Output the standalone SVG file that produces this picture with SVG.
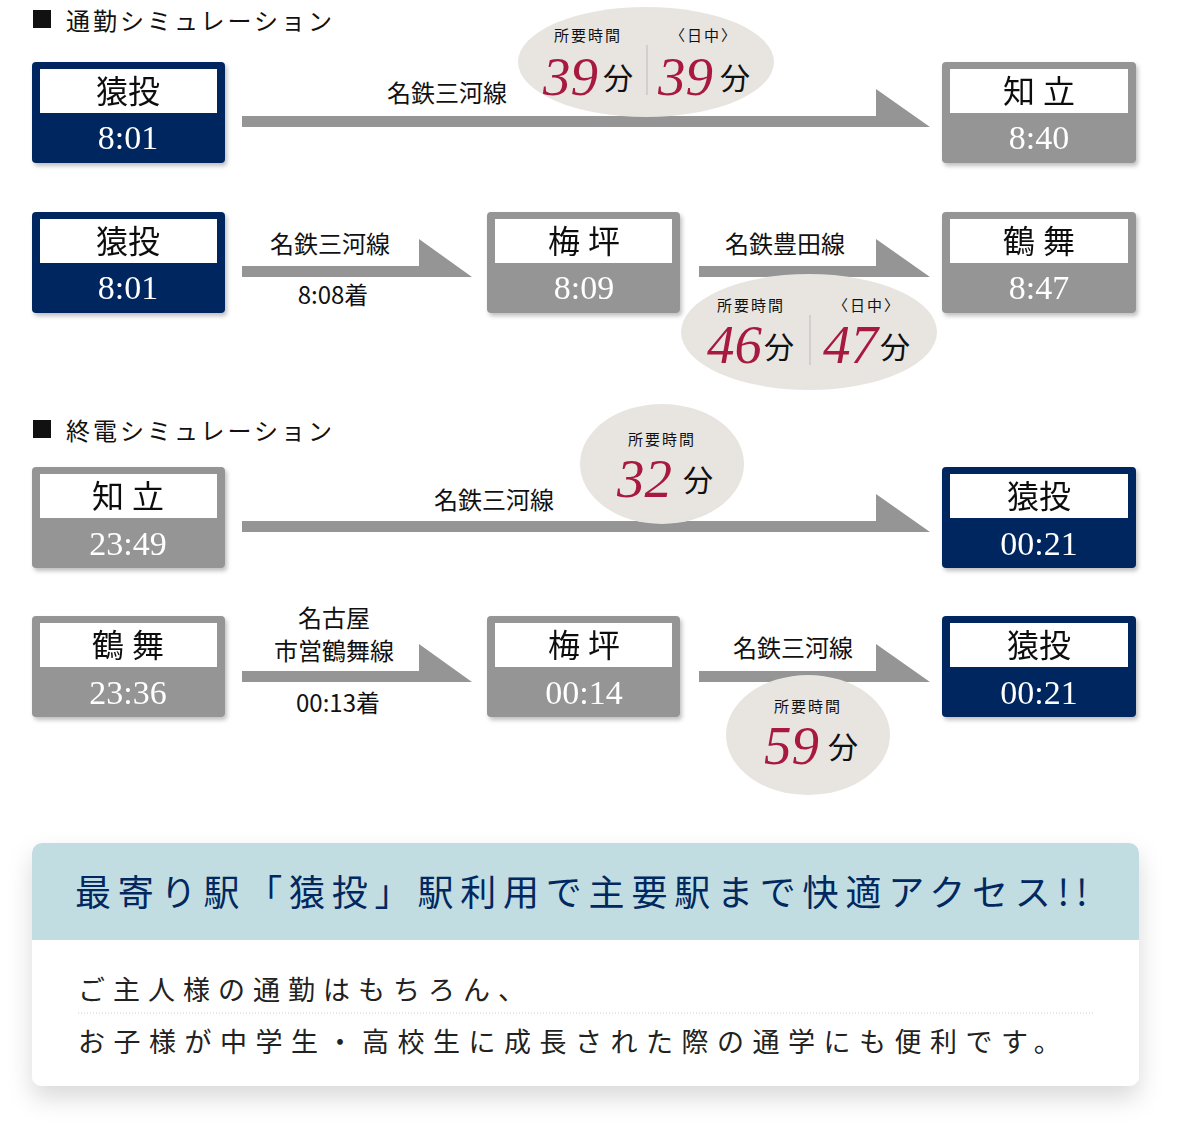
<svg xmlns="http://www.w3.org/2000/svg" width="1200" height="1148" viewBox="0 0 1200 1148">
<defs>
<filter id="sh" x="-10%" y="-10%" width="130%" height="140%"><feDropShadow dx="2" dy="3" stdDeviation="2" flood-color="#000" flood-opacity="0.25"/></filter>
<filter id="sh2" x="-10%" y="-20%" width="120%" height="150%"><feDropShadow dx="0" dy="12" stdDeviation="12" flood-color="#000" flood-opacity="0.15"/></filter>
</defs>
<style>
.navy{fill:#022860}.grey{fill:#959595}.in{fill:#fff}
.nm{font-family:"Liberation Serif","Noto Sans CJK JP",serif;font-size:32px;fill:#111;text-anchor:middle}
.tm{font-family:"Liberation Serif",serif;font-size:34px;fill:#fff;text-anchor:middle}
.ln{font-family:"Noto Sans CJK JP",sans-serif;font-size:24px;fill:#111;text-anchor:middle}
.hd{font-family:"Noto Sans CJK JP",sans-serif;font-size:24px;fill:#111;letter-spacing:3px}
.bub{fill:#e8e5e1}
.sm{font-family:"Noto Sans CJK JP",sans-serif;font-size:15px;fill:#111;text-anchor:middle;letter-spacing:2px}
.big{font-family:"Liberation Serif",serif;font-style:italic;font-size:55px;fill:#a8193f}
.fn{font-family:"Noto Sans CJK JP",sans-serif;font-size:30px;fill:#111}
.arr{fill:#959595}
</style>
<rect x="33" y="10" width="18" height="18" fill="#111"/>
<text class="hd" x="66" y="30">通勤シミュレーション</text>
<rect x="33" y="420" width="18" height="18" fill="#111"/>
<text class="hd" x="66" y="440">終電シミュレーション</text>

<g id="connectors">
<polygon class="arr" points="242,116 876,116 876,89 930,127 242,127"/>
<polygon class="arr" points="242,266 419,266 419,239 472,277 242,277"/>
<polygon class="arr" points="699,266 876,266 876,239 930,277 699,277"/>
<polygon class="arr" points="242,521 876,521 876,494 930,532 242,532"/>
<polygon class="arr" points="242,671 419,671 419,644 472,682 242,682"/>
<polygon class="arr" points="699,671 876,671 876,644 930,682 699,682"/>
<text class="ln" x="447" y="102">名鉄三河線</text>
<text class="ln" x="330" y="253">名鉄三河線</text>
<text class="ln" x="333" y="304">8:08着</text>
<text class="ln" x="785" y="253">名鉄豊田線</text>
<text class="ln" x="494" y="509">名鉄三河線</text>
<text class="ln" x="334" y="627">名古屋</text>
<text class="ln" x="334" y="660">市営鶴舞線</text>
<text class="ln" x="338" y="712">00:13着</text>
<text class="ln" x="793" y="657">名鉄三河線</text>
</g>

<g id="badge1">
<ellipse class="bub" cx="646" cy="62" rx="128" ry="55"/>
<line x1="647" y1="45" x2="647" y2="95" stroke="#bbb" stroke-width="1"/>
<text class="sm" x="588" y="41">所要時間</text>
<text class="sm" x="704" y="41">〈日中〉</text>
<text class="big" x="543" y="95">39</text><text class="fn" x="603" y="89">分</text>
<text class="big" x="658" y="95">39</text><text class="fn" x="720" y="89">分</text>
</g>
<g id="badge2">
<ellipse class="bub" cx="809" cy="332" rx="128" ry="58"/>
<line x1="810" y1="315" x2="810" y2="365" stroke="#bbb" stroke-width="1"/>
<text class="sm" x="751" y="311">所要時間</text>
<text class="sm" x="867" y="311">〈日中〉</text>
<text class="big" x="707" y="363">46</text><text class="fn" x="764" y="358">分</text>
<text class="big" x="823" y="363">47</text><text class="fn" x="880" y="358">分</text>
</g>
<g id="badge3">
<ellipse class="bub" cx="662" cy="464" rx="82" ry="60"/>
<text class="sm" x="662" y="445">所要時間</text>
<text class="big" x="617" y="497">32</text><text class="fn" x="683" y="491">分</text>
</g>
<g id="badge4">
<ellipse class="bub" cx="808" cy="735" rx="82" ry="60"/>
<text class="sm" x="808" y="712">所要時間</text>
<text class="big" x="764" y="764">59</text><text class="fn" x="828" y="758">分</text>
</g>

<g id="n1" filter="url(#sh)"><rect class="navy" x="32" y="62" width="193" height="101" rx="4"/><rect class="in" x="40" y="69" width="177" height="44"/><text class="nm" x="128" y="103">猿投</text><text class="tm" x="128" y="149">8:01</text></g>
<g id="n2" filter="url(#sh)"><rect class="grey" x="942" y="62" width="194" height="101" rx="4"/><rect class="in" x="950" y="69" width="178" height="44"/><text class="nm" x="1039" y="103">知 立</text><text class="tm" x="1039" y="149">8:40</text></g>
<g id="n3" filter="url(#sh)"><rect class="navy" x="32" y="212" width="193" height="101" rx="4"/><rect class="in" x="40" y="219" width="177" height="44"/><text class="nm" x="128" y="253">猿投</text><text class="tm" x="128" y="299">8:01</text></g>
<g id="n4" filter="url(#sh)"><rect class="grey" x="487" y="212" width="193" height="101" rx="4"/><rect class="in" x="495" y="219" width="177" height="44"/><text class="nm" x="584" y="253">梅 坪</text><text class="tm" x="584" y="299">8:09</text></g>
<g id="n5" filter="url(#sh)"><rect class="grey" x="942" y="212" width="194" height="101" rx="4"/><rect class="in" x="950" y="219" width="178" height="44"/><text class="nm" x="1039" y="253">鶴 舞</text><text class="tm" x="1039" y="299">8:47</text></g>
<g id="n6" filter="url(#sh)"><rect class="grey" x="32" y="467" width="193" height="101" rx="4"/><rect class="in" x="40" y="474" width="177" height="44"/><text class="nm" x="128" y="508">知 立</text><text class="tm" x="128" y="555">23:49</text></g>
<g id="n7" filter="url(#sh)"><rect class="navy" x="942" y="467" width="194" height="101" rx="4"/><rect class="in" x="950" y="474" width="178" height="44"/><text class="nm" x="1039" y="508">猿投</text><text class="tm" x="1039" y="555">00:21</text></g>
<g id="n8" filter="url(#sh)"><rect class="grey" x="32" y="616" width="193" height="101" rx="4"/><rect class="in" x="40" y="623" width="177" height="44"/><text class="nm" x="128" y="657">鶴 舞</text><text class="tm" x="128" y="704">23:36</text></g>
<g id="n9" filter="url(#sh)"><rect class="grey" x="487" y="616" width="193" height="101" rx="4"/><rect class="in" x="495" y="623" width="177" height="44"/><text class="nm" x="584" y="657">梅 坪</text><text class="tm" x="584" y="704">00:14</text></g>
<g id="n10" filter="url(#sh)"><rect class="navy" x="942" y="616" width="194" height="101" rx="4"/><rect class="in" x="950" y="623" width="178" height="44"/><text class="nm" x="1039" y="657">猿投</text><text class="tm" x="1039" y="704">00:21</text></g>

<g id="card">
<rect x="32" y="843" width="1107" height="243" rx="10" fill="#fff" filter="url(#sh2)"/>
<path d="M42,843 H1129 A10,10 0 0 1 1139,853 V940 H32 V853 A10,10 0 0 1 42,843 Z" fill="#c1dde2"/>
<text x="75" y="906" font-family="Noto Sans CJK JP,sans-serif" font-size="36" fill="#022860" letter-spacing="6.8">最寄り駅「猿投」駅利用で主要駅まで快適アクセス!!</text>
<text x="78" y="1000" font-family="Noto Sans CJK JP,sans-serif" font-size="27" fill="#222" letter-spacing="8">ご主人様の通勤はもちろん、</text>
<line x1="78" y1="1013" x2="1093" y2="1013" stroke="#ccc" stroke-width="1" stroke-dasharray="1,2"/>
<text x="78" y="1052" font-family="Noto Sans CJK JP,sans-serif" font-size="27" fill="#222" letter-spacing="8.5">お子様が中学生・高校生に成長された際の通学にも便利です。</text>
</g>
</svg>
